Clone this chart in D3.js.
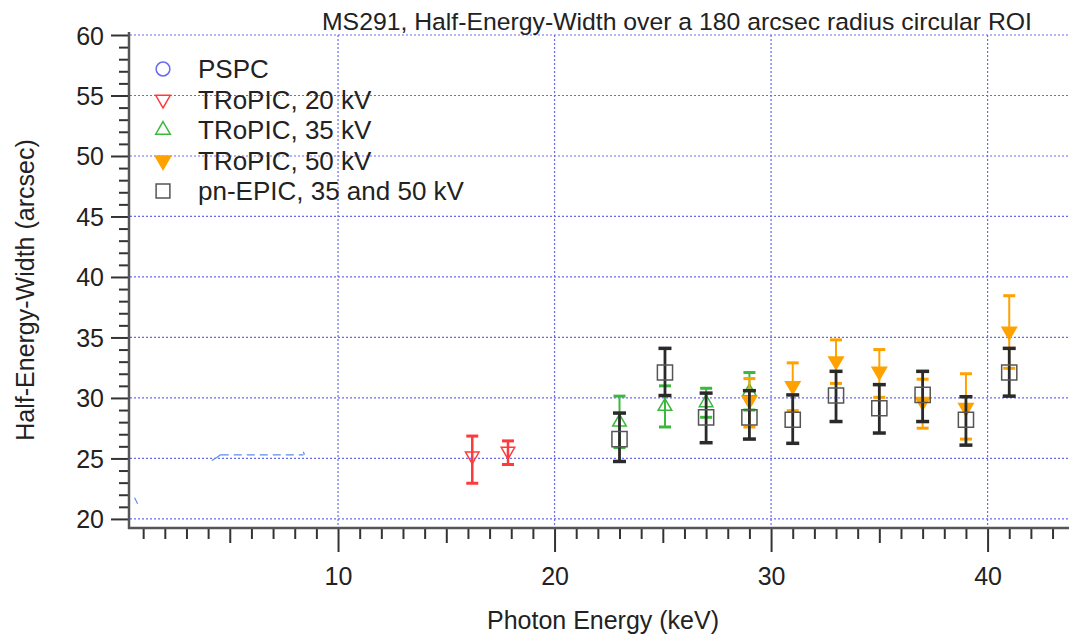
<!DOCTYPE html>
<html>
<head>
<meta charset="utf-8">
<script src="https://cdn.jsdelivr.net/npm/d3@7"></script>
<style>
  body { margin: 0; background: #fff; }
  text { font-family: "Liberation Sans", Arial, sans-serif; fill: #222; }
</style>
</head>
<body>
<svg id="chart" width="1069" height="635"></svg>
<script>
// PSPC (only fragments of it fall inside the plot)
var pspcEnergy = [0.65, 4.4, 8.4];
var pspcHew = [21.5, 25.0, 25.3];

// TRoPIC, 20 kV
var t20Energy = [16.2, 17.85];
var t20Hew = [25.2, 25.6];
var t20Lo = [22.95, 24.5];
var t20Hi = [26.85, 26.45];

// TRoPIC, 35 kV
var t35Energy = [23, 25.1, 27, 29];
var t35Hew = [28.0, 29.3, 29.6, 30.5];
var t35Lo = [25.9, 27.6, 28.4, 29.0];
var t35Hi = [30.15, 31.0, 30.8, 32.1];

// TRoPIC, 50 kV
var t50Energy = [29, 31, 33, 35, 37, 39, 41];
var t50Hew = [29.8, 31.0, 33.05, 32.2, 29.7, 29.2, 35.5];
var t50Lo = [27.6, 28.95, 31.2, 30.05, 27.5, 26.6, 32.45];
var t50Hi = [31.6, 32.9, 34.8, 34.0, 31.55, 32.0, 38.45];

// pn-EPIC, 35 and 50 kV
var pnEnergy = [23, 25.1, 27, 29, 31, 33, 35, 37, 39, 41];
var pnHew = [26.6, 32.1, 28.4, 28.4, 28.2, 30.2, 29.15, 30.25, 28.2, 32.1];
var pnLo = [24.75, 30.2, 26.3, 26.6, 26.25, 28.05, 27.1, 28.05, 26.1, 30.15];
var pnHi = [28.75, 34.1, 30.4, 30.6, 30.25, 32.2, 31.1, 32.2, 30.1, 34.1];

var yTicks = [20, 25, 30, 35, 40, 45, 50, 55, 60];
var xTicks = [10, 20, 30, 40];

var legendLabels = ["PSPC", "TRoPIC, 20 kV", "TRoPIC, 35 kV", "TRoPIC, 50 kV", "pn-EPIC, 35 and 50 kV"];

var svg = d3.select("#chart");

var x = d3.scaleLinear().domain([0.346, 43.76]).range([129, 1069]);
var y = d3.scaleLinear().domain([19.25, 60]).range([528, 35]);

var gridColor = "#6a6af0";

// grid
var grid = svg.append("g");
grid.selectAll(".gy")
  .data(yTicks)
  .enter().append("line")
  .attr("x1", 130).attr("x2", 1069)
  .attr("y1", d => y(d)).attr("y2", d => y(d))
  .attr("stroke", gridColor)
  .attr("stroke-width", 1.2)
  .attr("stroke-dasharray", "2,2");
grid.selectAll(".gx")
  .data(xTicks)
  .enter().append("line")
  .attr("x1", d => x(d)).attr("x2", d => x(d))
  .attr("y1", 35).attr("y2", 528)
  .attr("stroke", gridColor)
  .attr("stroke-width", 1.2)
  .attr("stroke-dasharray", "2,2");

// axes
var yAxis = d3.axisLeft(y)
  .tickValues(d3.range(20, 61, 1))
  .tickFormat(d => yTicks.includes(d) ? d : "")
  .tickSize(0);
var gy = svg.append("g").attr("transform", "translate(129,0)").call(yAxis);
gy.select(".domain").remove();
gy.selectAll(".tick line")
  .attr("x2", d => yTicks.includes(d) ? -18 : -10)
  .attr("stroke", "#333")
  .attr("stroke-width", 2);
gy.selectAll(".tick text")
  .attr("x", -25)
  .attr("dy", "0.36em")
  .style("font-size", "25px")
  .style("font-family", "Liberation Sans, Arial, sans-serif")
  .attr("fill", "#333");

var xAxis = d3.axisBottom(x)
  .tickValues(d3.range(1, 44, 1))
  .tickFormat(d => xTicks.includes(d) ? d : "")
  .tickSize(0);
var gx = svg.append("g").attr("transform", "translate(0,528)").call(xAxis);
gx.select(".domain").remove();
gx.selectAll(".tick line")
  .attr("y2", d => xTicks.includes(d) ? 24 : (d % 5 === 0 ? 15 : 11))
  .attr("stroke", "#333")
  .attr("stroke-width", 2);
gx.selectAll(".tick text")
  .attr("y", 39)
  .attr("dy", "0.71em")
  .style("font-size", "25px")
  .style("font-family", "Liberation Sans, Arial, sans-serif")
  .attr("fill", "#333");

svg.append("line")
  .attr("x1", 129).attr("x2", 129).attr("y1", 32).attr("y2", 529)
  .attr("stroke", "#555").attr("stroke-width", 2.5);
svg.append("line")
  .attr("x1", 128).attr("x2", 1069).attr("y1", 528).attr("y2", 528)
  .attr("stroke", "#555").attr("stroke-width", 2.5);

// axis titles and plot title
svg.append("text")
  .attr("x", 603).attr("y", 629)
  .attr("text-anchor", "middle")
  .style("font-size", "25px")
  .text("Photon Energy (keV)");
svg.append("text")
  .attr("transform", "translate(34,290) rotate(-90)")
  .attr("text-anchor", "middle")
  .style("font-size", "25px")
  .text("Half-Energy-Width (arcsec)");
svg.append("text")
  .attr("x", 322).attr("y", 30)
  .style("font-size", "24.5px")
  .attr("textLength", 710)
  .attr("lengthAdjust", "spacingAndGlyphs")
  .text("MS291, Half-Energy-Width over a 180 arcsec radius circular ROI");

// PSPC fragments
var pspcColor = "#5a8ff0";
svg.append("path")
  .attr("d", d3.line()([[x(pspcEnergy[1]) + 4, y(pspcHew[2])], [x(pspcEnergy[2]), y(pspcHew[2])]]))
  .attr("stroke", pspcColor).attr("stroke-width", 1.2)
  .attr("stroke-dasharray", "8,5").attr("fill", "none");
svg.append("path")
  .attr("d", "M" + (x(pspcEnergy[0]) - 1) + "," + (y(pspcHew[0]) - 3) + "l3,6")
  .attr("stroke", pspcColor).attr("stroke-width", 1.2);
svg.append("path")
  .attr("d", "M" + (x(pspcEnergy[1]) - 5) + "," + (y(pspcHew[1]) + 2) + "l5,-3l4,-3")
  .attr("stroke", pspcColor).attr("stroke-width", 1.2).attr("fill", "none");
svg.append("path")
  .attr("d", "M" + x(pspcEnergy[2]) + "," + (y(pspcHew[2]) - 3) + "l1,3")
  .attr("stroke", pspcColor).attr("stroke-width", 1.2);

// helpers for error bars and markers
function drawSeries(energy, hew, lo, hi, color, shape, opts) {
  var g = svg.append("g");
  var rows = energy.map((e, i) => ({e: e, v: hew[i], lo: lo[i], hi: hi[i]}));
  var cap = opts.cap;
  g.selectAll(".bar").data(rows).enter().append("line")
    .attr("x1", d => x(d.e)).attr("x2", d => x(d.e))
    .attr("y1", d => y(d.lo)).attr("y2", d => y(d.hi))
    .attr("stroke", color).attr("stroke-width", opts.bw);
  g.selectAll(".capl").data(rows).enter().append("line")
    .attr("x1", d => x(d.e) - cap).attr("x2", d => x(d.e) + cap)
    .attr("y1", d => y(d.lo)).attr("y2", d => y(d.lo))
    .attr("stroke", color).attr("stroke-width", opts.cw);
  g.selectAll(".caph").data(rows).enter().append("line")
    .attr("x1", d => x(d.e) - cap).attr("x2", d => x(d.e) + cap)
    .attr("y1", d => y(d.hi)).attr("y2", d => y(d.hi))
    .attr("stroke", color).attr("stroke-width", opts.cw);
  g.selectAll(".mk").data(rows).enter().append("path")
    .attr("d", d3.symbol().type(shape.type).size(shape.size))
    .attr("transform", d => "translate(" + x(d.e) + "," + (y(d.v) + (shape.dy || 0)) + ") rotate(" + (shape.rot || 0) + ")")
    .attr("fill", shape.fill ? color : "none")
    .attr("stroke", shape.stroke || color)
    .attr("stroke-width", 1.5);
}

var red = "#ff3a3a", green = "#3cb83c", orange = "#ffa200", black = "#2a2a2a";
var shapes = {
  pspc: {type: d3.symbolCircle, size: 130},
  t20: {type: d3.symbolTriangle, size: 80, rot: 180},
  t35: {type: d3.symbolTriangle, size: 80},
  t50: {type: d3.symbolTriangle, size: 90, rot: 180, fill: true},
  pn: {type: d3.symbolSquare, size: 230, stroke: "#555"}
};

drawSeries(t20Energy, t20Hew, t20Lo, t20Hi, red, shapes.t20, {cap: 6, bw: 2.5, cw: 3});
drawSeries(t35Energy, t35Hew, t35Lo, t35Hi, green, shapes.t35, {cap: 6, bw: 2, cw: 3});
drawSeries(t50Energy, t50Hew, t50Lo, t50Hi, orange, shapes.t50, {cap: 6, bw: 2, cw: 3});
drawSeries(pnEnergy, pnHew, pnLo, pnHi, black, shapes.pn, {cap: 6.5, bw: 2.8, cw: 3.5});

// legend
var legendColors = ["#6a6af0", red, green, orange, "#555"];
var legendShapes = [shapes.pspc, shapes.t20, shapes.t35, shapes.t50, shapes.pn];
var leg = svg.append("g");
legendLabels.forEach(function(lab, i) {
  var ly = 69 + i * 30.5;
  var s = legendShapes[i];
  leg.append("path")
    .attr("d", d3.symbol().type(s.type).size(s === shapes.pn ? 190 : s.size * 1.15))
    .attr("transform", "translate(163," + ly + ") rotate(" + (s.rot || 0) + ")")
    .attr("fill", s.fill ? legendColors[i] : "none")
    .attr("stroke", legendColors[i])
    .attr("stroke-width", 1.5);
  leg.append("text")
    .attr("x", 198).attr("y", ly)
    .attr("dy", "0.36em")
    .style("font-size", "26px")
    .text(lab);
});
</script>
</body>
</html>
